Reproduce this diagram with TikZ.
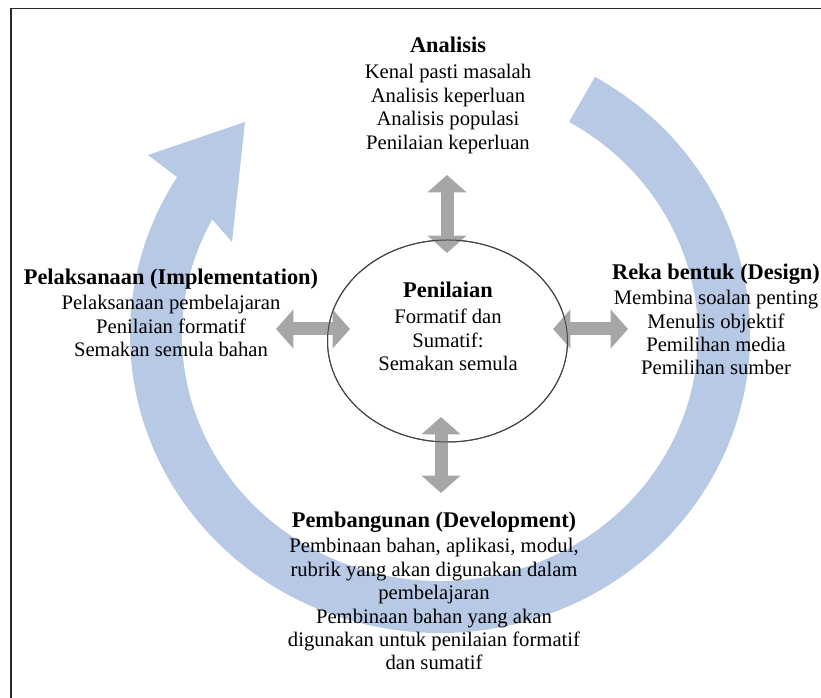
\documentclass[tikz,border=0pt]{standalone}
\usepackage{fontspec}
\setmainfont{Liberation Serif}
\usetikzlibrary{arrows.meta,calc,shapes.geometric}
\definecolor{ringblue}{RGB}{183,201,229}
\definecolor{arrgray}{RGB}{166,166,166}
\definecolor{ellgray}{RGB}{70,70,70}
\definecolor{framecol}{RGB}{40,40,40}
\newcommand{\bodyfnt}{\fontsize{15.5}{17.6}\selectfont}
\newcommand{\titlefnt}{\fontsize{16.8}{17.6}\selectfont\bfseries}
\begin{document}
\begin{tikzpicture}[x=0.75pt,y=0.75pt,
  blk/.style={align=center,font=\bodyfnt,inner sep=0pt,anchor=north},
  dbl/.style={arrgray,line width=9.75pt,
    {Triangle[width=28.5pt,length=13pt]}-{Triangle[width=28.5pt,length=13pt]}}]
\useasboundingbox (0,0) rectangle (821,698);
% frame
\draw[framecol,line width=1.4pt] (11,689.5) rectangle (840,-20);
% big circular arrow
\coordinate (C) at (440,363);
\coordinate (ob) at (148,543);
\coordinate (tip) at (245,576);
\coordinate (ib) at (232,456);
\fill[ringblue] ($(C)+(60:310 and 298)$)
  arc[start angle=60,end angle=-212,x radius=310,y radius=298]
  -- (ob) -- (tip) -- (ib)
  -- ($(C)+(-208:258 and 246)$)
  arc[start angle=-208,end angle=60,x radius=258,y radius=246] -- cycle;
% central ellipse
\node[ellipse,draw=ellgray,line width=0.75pt,minimum width=180pt,minimum height=151.5pt,inner sep=0pt] (pen) at (447.5,357) {};
% gray double arrows
\coordinate (tA) at (447,523);
\coordinate (tB) at (447,445);
\coordinate (bA) at (441,281);
\coordinate (bB) at (441,205);
\coordinate (lA) at (276,369);
\coordinate (lB) at (350,369);
\coordinate (rA) at (553,369);
\coordinate (rB) at (628,369);
\draw[dbl] (tA) -- (tB);
\draw[dbl] (bA) -- (bB);
\draw[dbl] (lA) -- (lB);
\draw[dbl] (rA) -- (rB);
\draw[ellgray,line width=0.75pt] (pen.center) ellipse[x radius=120,y radius=101];
% texts
\node[blk] (analisis) at (448,661) {{\titlefnt Analisis}\\[2pt]
  Kenal pasti masalah\\ Analisis keperluan\\ Analisis populasi\\ Penilaian keperluan};
\node[blk] (pentext) at (448,416) {{\titlefnt Penilaian}\\[2pt]
  Formatif dan\\ Sumatif:\\ Semakan semula};
\node[blk] (pelak) at (171,429) {{\titlefnt Pelaksanaan (Implementation)}\\[1pt]
  Pelaksanaan pembelajaran\\ Penilaian formatif\\ Semakan semula bahan};
\node[blk] (reka) at (716,434) {{\titlefnt Reka bentuk (Design)}\\[1pt]
  Membina soalan penting\\ Menulis objektif\\ Pemilihan media\\ Pemilihan sumber};
\node[blk] (pemb) at (434,186) {{\titlefnt Pembangunan (Development)}\\[1pt]
  Pembinaan bahan, aplikasi, modul,\\ rubrik yang akan digunakan dalam\\ pembelajaran\\
  Pembinaan bahan yang akan\\ digunakan untuk penilaian formatif\\ dan sumatif};
\end{tikzpicture}
\end{document}
